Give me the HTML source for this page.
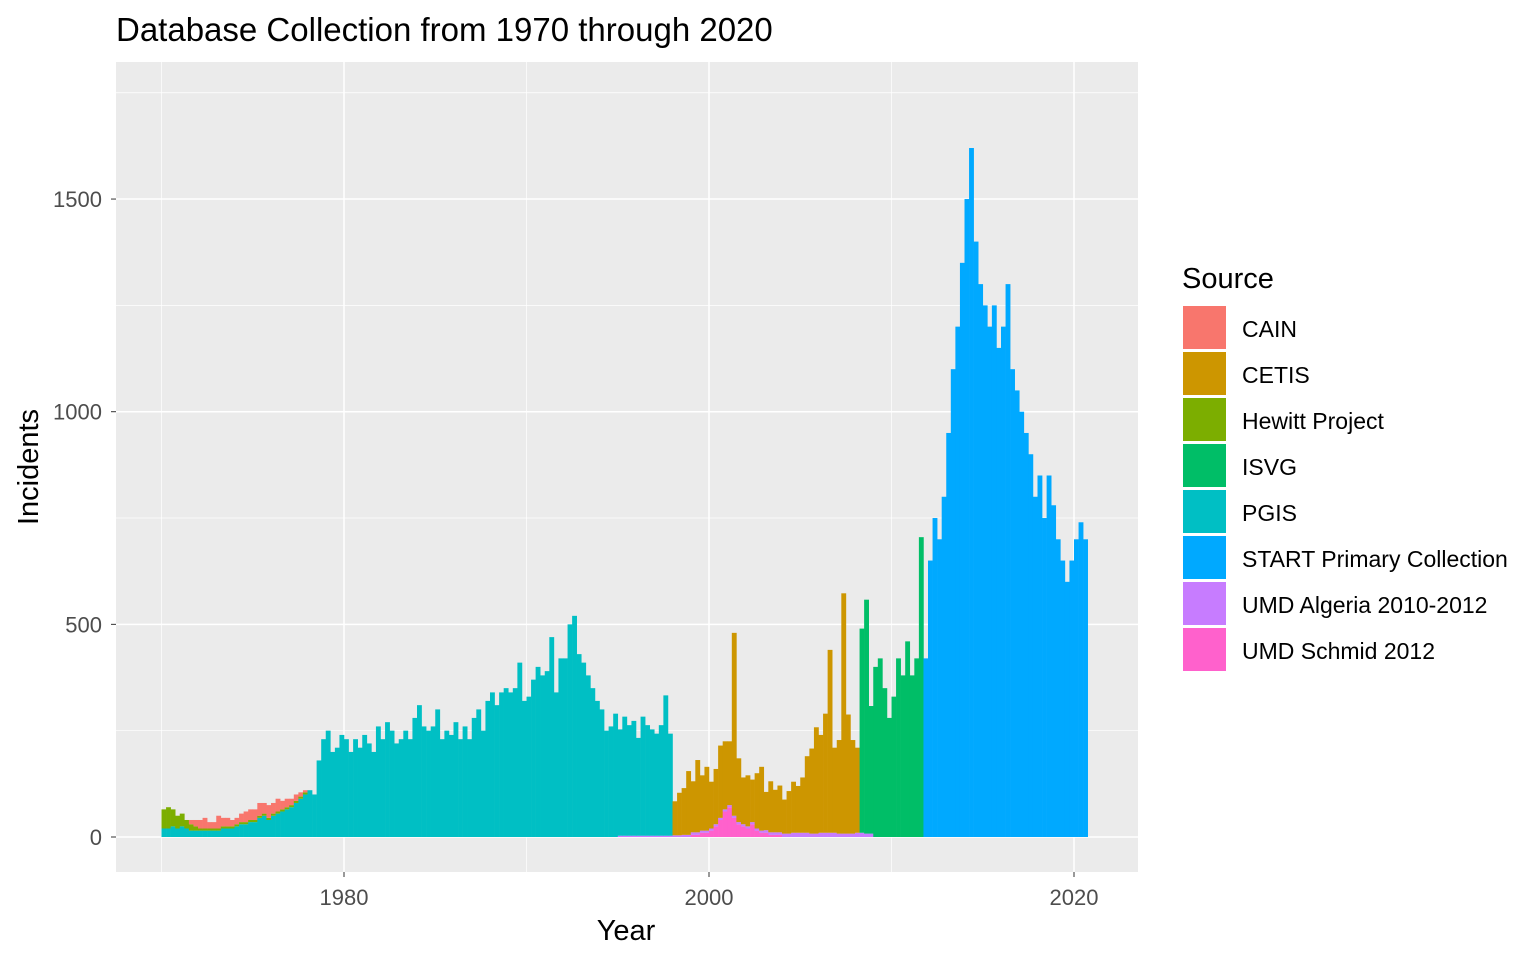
<!DOCTYPE html>
<html><head><meta charset="utf-8">
<style>
body{margin:0;background:#fff;}
svg text{font-family:"Liberation Sans",Arial,sans-serif;}
</style></head>
<body>
<svg id="chart" width="1536" height="960" xmlns="http://www.w3.org/2000/svg">
<rect x="0" y="0" width="1536" height="960" fill="#fff"/>
<text x="116" y="41" font-size="33" fill="#000">Database Collection from 1970 through 2020</text>
<rect x="116" y="62" width="1022" height="810" fill="#ebebeb"/>
<g id="grid"></g>
<g id="marks"></g>
<g id="axes"></g>
<text x="626" y="940" font-size="29" text-anchor="middle" fill="#000">Year</text>
<text transform="translate(38,467) rotate(-90)" font-size="29" text-anchor="middle" fill="#000">Incidents</text>
<g id="legend"></g>
</svg>
<script>
// quarterly data, each series: start year + values per quarter
const sources = ["CAIN","CETIS","Hewitt Project","ISVG","PGIS","START Primary Collection","UMD Algeria 2010-2012","UMD Schmid 2012"];
const colors = ["#F8766D","#CD9600","#7CAE00","#00BE67","#00BFC4","#00A9FF","#C77CFF","#FF61CC"];
const cainStart = 1971.5;
const cainVals = [10,15, 20,25,15,15, 30,20,20,15, 15,20,25,25, 25,30,25,30, 25,30,20,20, 15,15,10,5];
const cetisStart = 1998;
const cetisVals = [80,100,110,150, 120,170,130,150, 110,130,170,160, 150,430,150,110, 120,100,130,150, 90,120,100,110, 80,100,120,110, 130,180,200,250, 230,280,430,200, 220,565,280,220, 200];
const hewittStart = 1970;
const hewittVals = [45,50,40,30, 30,20,15,10, 5,5,5,5, 5,5,5,5, 5,5,5,5, 5,5,5,5, 5,5,5,5, 5,5,5,5];
const isvgStart = 2008.25;
const isvgVals = [480,550,300, 400,420,350,280, 330,420,380,460, 380,420,705];
const pgisStart = 1970;
const pgisVals = [20,20,25,20, 25,20,15,15, 15,15,15,15, 15,20,20,20, 25,30,30,35, 35,45,50,40, 50,55,60,65, 70,80,90,100,
 110,100,180,230, 250,200,210,240, 230,200,230,210, 240,220,200,260, 230,270,250,220, 230,250,230,280,
 310,260,250,260, 300,230,250,240, 270,230,260,230, 280,300,250,320, 340,310,340,350, 340,350,410,320,
 330,370,400,380, 390,470,340,420, 420,500,520,430, 410,380,350,320, 300,250,260,290, 250,280,260,270,
 230,280,260,250, 240,260,330,240];
const startStart = 2011.75;
const startVals = [420, 650,750,700,800, 950,1100,1200,1350, 1500,1620,1400,1300, 1250,1200,1250,1150, 1200,1300,1100,1050, 1000,950,900,800, 850,750,850,780, 700,650,600,650, 700,740,700];
const algeriaStart = 1995;
const algeriaVals = [3,3,3,3, 3,3,3,3, 3,3,3,3, 4,4,5,5, 6,6,5,5, 5,5,5,5, 5,5,5,5, 5,5,5,5, 6,6,6,6, 8,8,10,10, 10,10,8,8, 10,10,10,10, 8,8,8,8, 10,10,8,8];
const schmidStart = 1999;
const schmidVals = [5,5,10,10, 15,25,40,60, 70,45,30,25, 20,30,15,10, 10,5,5,5];
const yTicks = [0,500,1000,1500];
const xTicks = [1980,2000,2020];

const seriesStart = [cainStart,cetisStart,hewittStart,isvgStart,pgisStart,startStart,algeriaStart,schmidStart];
const seriesVals = [cainVals,cetisVals,hewittVals,isvgVals,pgisVals,startVals,algeriaVals,schmidVals];

const NS = "http://www.w3.org/2000/svg";
const X = y => 161.5 + (y - 1970) * 18.25;
const Y = v => 837 - v * 0.4253;
function mk(tag, attrs, parent){const e=document.createElementNS(NS,tag);for(const k in attrs)e.setAttribute(k,attrs[k]);parent.appendChild(e);return e;}

const grid = document.getElementById('grid');
[250,750,1250,1750].forEach(v=>{const l=mk('line',{x1:116,x2:1138,y1:Y(v),y2:Y(v),stroke:'#fff','stroke-width':0.7},grid);

});
[1970,1990,2010].forEach(v=>{const l=mk('line',{x1:X(v),x2:X(v),y1:62,y2:872,stroke:'#fff','stroke-width':0.7},grid);

});
yTicks.forEach(v=>{const l=mk('line',{x1:116,x2:1138,y1:Y(v),y2:Y(v),stroke:'#fff','stroke-width':1.5},grid);

});
xTicks.forEach(v=>{const l=mk('line',{x1:X(v),x2:X(v),y1:62,y2:872,stroke:'#fff','stroke-width':1.5},grid);

});

const marks = document.getElementById('marks');
const q0 = 1970, nQ = 204, qw = 0.25;
const order = [7,6,5,4,3,2,1,0];
for(let q=0;q<nQ;q++){
  const yr = q0 + q*qw;
  let base = 0;
  order.forEach(si=>{
    const idx = Math.round((yr - seriesStart[si]) / qw);
    const arr = seriesVals[si];
    if(idx<0||idx>=arr.length) return;
    const v = arr[idx];
    const r = mk('rect',{x:X(yr),y:Y(base+v),width:18.25*qw+0.3,height:v*0.4253,fill:colors[si]},marks);
    
    
    base += v;
  });
}

const axes = document.getElementById('axes');
yTicks.forEach(v=>{
  const t=mk('line',{x1:111,x2:116,y1:Y(v),y2:Y(v),stroke:'#333','stroke-width':1},axes);
  
  
  const tx=mk('text',{x:102,y:Y(v)+8,'font-size':22,'text-anchor':'end',fill:'#4d4d4d'},axes);
  tx.textContent=v;
  
  
});
xTicks.forEach(v=>{
  const t=mk('line',{x1:X(v),x2:X(v),y1:872,y2:877,stroke:'#333','stroke-width':1},axes);
  
  
  const tx=mk('text',{x:X(v),y:905,'font-size':22,'text-anchor':'middle',fill:'#4d4d4d'},axes);
  tx.textContent=v;
  
  
});

const lg = document.getElementById('legend');
const lt = mk('text',{x:1182,y:288,'font-size':29,fill:'#000'},lg);
lt.textContent='Source';


sources.forEach((s,i)=>{
  const y0 = 306 + i*46;
  const k = mk('rect',{x:1183,y:y0,width:43,height:43,fill:colors[i]},lg);
  
  
  const t = mk('text',{x:1242,y:y0+31,'font-size':23,fill:'#000'},lg);
  t.textContent=s;
  
  
});
</script>
</body></html>
